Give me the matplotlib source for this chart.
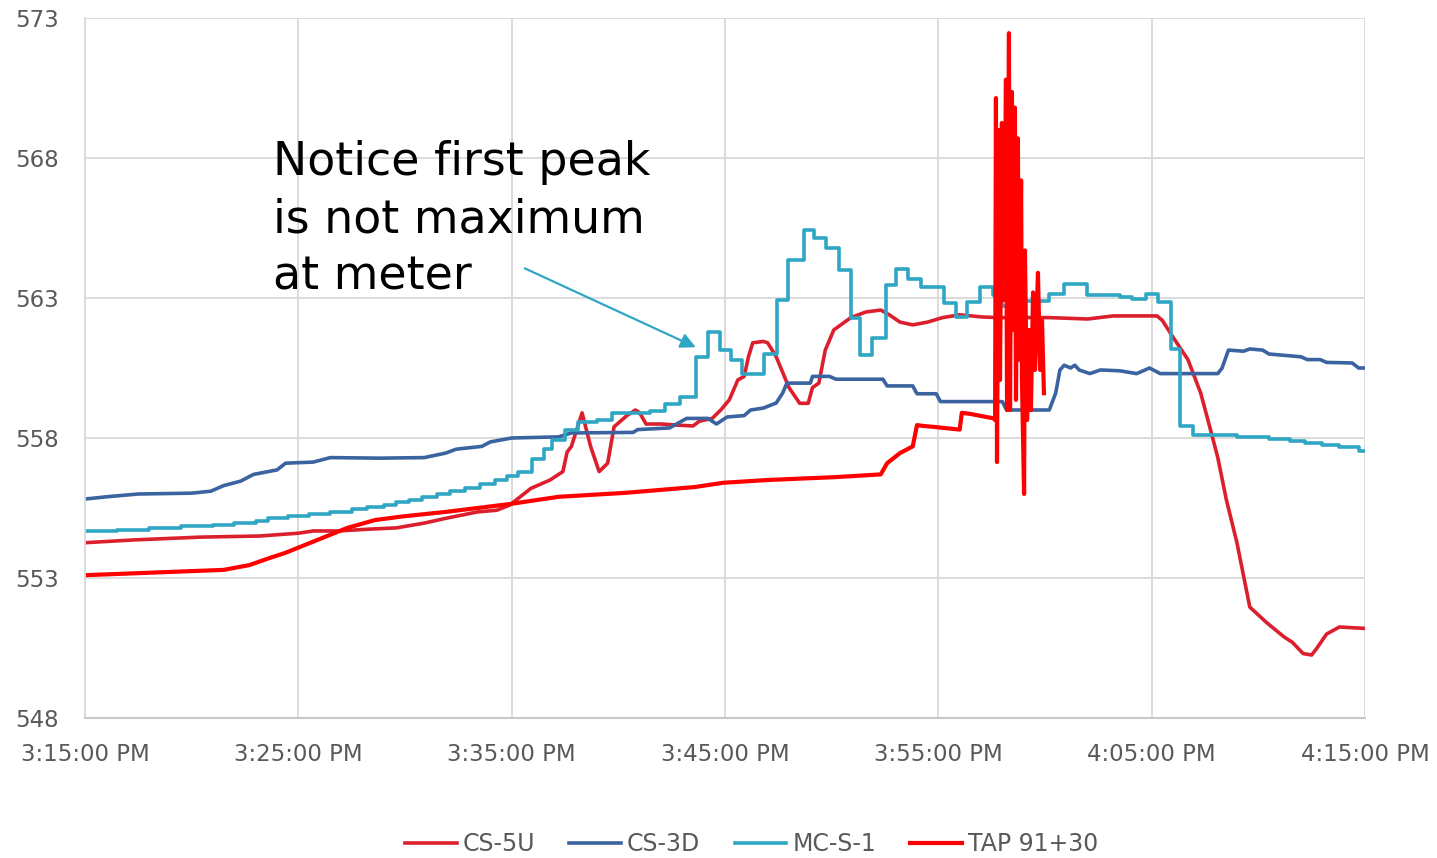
import matplotlib.pyplot as plt

# minutes after 3:15:00 PM
cs5u_t = [0, 2.3, 5.4, 8.2, 10, 10.7, 11.9, 13.2, 14.6, 15.9, 16.9, 18.4, 19.3, 19.9, 20.9, 21.8,
          22.4, 22.6, 22.8, 23.3, 23.7, 24.1, 24.5, 24.8, 25.4, 25.8, 26.0, 26.3, 27.0, 27.75, 28.5,
          28.8, 29.4, 29.8, 30.2, 30.6, 30.9, 31.1, 31.3, 31.8, 32.0, 32.4, 33.0, 33.5, 33.9, 34.1,
          34.4, 34.7, 35.1, 35.9, 36.6, 37.3, 37.7, 38.2, 38.8, 39.5, 40.2, 41.0, 42.1, 42.9, 45.2,
          47.0, 48.2, 50.25, 50.5, 51.0, 51.7, 52.3, 52.6, 53.1, 53.5, 54.0, 54.6, 55.4, 56.2, 56.6,
          57.1, 57.5, 57.75, 58.2, 58.8, 60]
cs5u_v = [554.26, 554.36, 554.46, 554.5, 554.6, 554.68, 554.68, 554.74, 554.79, 554.96, 555.13,
          555.36, 555.42, 555.6, 556.2, 556.5, 556.8, 557.5, 557.7, 558.9, 557.7, 556.8, 557.1,
          558.4, 558.8, 559.0, 558.9, 558.5, 558.5, 558.46, 558.43, 558.6, 558.7, 559.0, 559.36,
          560.07, 560.2, 560.9, 561.4, 561.45, 561.4, 560.9, 559.8, 559.24, 559.24, 559.8, 559.96,
          561.14, 561.86, 562.3, 562.5, 562.57, 562.4, 562.14, 562.04, 562.14, 562.3, 562.4, 562.32,
          562.3, 562.3, 562.25, 562.36, 562.36, 562.2, 561.6, 560.8, 559.6, 558.75, 557.3, 555.8,
          554.25, 551.96, 551.4, 550.9, 550.7, 550.3, 550.25, 550.5, 551.0, 551.25, 551.2]

cs3d_t = [0, 1, 2.5, 5.0, 5.9, 6.5, 7.3, 7.9, 9.0, 9.4, 10.7, 11.5, 13.8, 15.9, 16.9, 17.4, 18.6,
          19.0, 20.0, 22.2, 22.8, 25.7, 25.9, 27.4, 28.2, 29.2, 29.6, 30.1, 30.9, 31.2, 31.8, 32.4,
          32.7, 32.9, 34.0, 34.1, 34.9, 35.2, 37.4, 37.6, 38.8, 39.0, 39.9, 40.1, 43.0, 43.2, 45.2,
          45.5, 45.7, 45.9, 46.2, 46.4, 46.6, 47.1, 47.6, 48.5, 49.3, 49.9, 50.4, 53.1, 53.3, 53.6,
          54.3, 54.6, 55.2, 55.5, 57.0, 57.3, 57.9, 58.2, 59.4, 59.7, 60]
cs3d_v = [555.82, 555.9, 556.0, 556.03, 556.1, 556.3, 556.46, 556.7, 556.86, 557.1, 557.14, 557.3,
          557.28, 557.3, 557.46, 557.6, 557.7, 557.86, 558.0, 558.04, 558.18, 558.2, 558.3, 558.36,
          558.7, 558.7, 558.5, 558.75, 558.8, 559.0, 559.07, 559.25, 559.6, 559.96, 559.96, 560.2,
          560.2, 560.1, 560.1, 559.86, 559.86, 559.58, 559.58, 559.3, 559.3, 559.0, 559.0, 559.6,
          560.43, 560.6, 560.5, 560.6, 560.43, 560.3, 560.43, 560.4, 560.3, 560.5, 560.3, 560.3,
          560.5, 561.14, 561.1, 561.18, 561.14, 561.0, 560.9, 560.8, 560.8, 560.7, 560.68, 560.5,
          560.5]

# MC-S-1 is a stepped signal: value holds from each time to the next
mcs1_t = [0, 1.5, 3, 4.5, 6, 7, 8, 8.6, 9.5, 10.5, 11.5, 12.5, 13.2, 14.0, 14.6, 15.2, 15.8, 16.5,
          17.1, 17.8, 18.5, 19.2, 19.8, 20.3, 20.95, 21.5, 21.9, 22.5, 23.1, 24.0, 24.7, 26.5,
          27.2, 27.9, 28.65, 29.2, 29.75, 30.3, 30.8, 31.85, 32.45, 32.95, 33.7, 34.15, 34.75,
          35.35, 35.9, 36.35, 36.9, 37.55, 38.0, 38.6, 39.2, 40.25, 40.85, 41.35, 41.95, 42.55,
          43.0, 43.6, 45.2, 45.9, 46.95, 48.5, 49.1, 49.75, 50.3, 50.9, 51.35, 51.95, 54.0, 55.5,
          56.5, 57.2, 58.0, 58.8, 59.7, 60]
mcs1_v = [554.68, 554.72, 554.78, 554.84, 554.9, 554.96, 555.05, 555.15, 555.2, 555.28, 555.36,
          555.45, 555.54, 555.62, 555.7, 555.8, 555.9, 556.0, 556.1, 556.2, 556.35, 556.5, 556.65,
          556.8, 557.25, 557.6, 557.93, 558.3, 558.57, 558.64, 558.9, 558.97, 559.2, 559.46,
          560.9, 561.8, 561.14, 560.8, 560.28, 561.0, 562.93, 564.36, 565.43, 565.14, 564.8,
          564.0, 562.3, 560.96, 561.57, 563.46, 564.04, 563.68, 563.4, 562.82, 562.32, 562.84,
          563.4, 563.1, 562.72, 562.9, 563.14, 563.5, 563.1, 563.03, 562.98, 563.14, 562.84,
          561.18, 558.43, 558.1, 558.04, 557.98, 557.9, 557.82, 557.74, 557.68, 557.55, 557.55]

tap_t = [0, 6.5, 7.7, 8.6, 9.4, 10.7, 12.3, 13.6, 14.9, 16.9, 19.9, 22.2, 25.3, 28.6, 29.9, 32.0,
         35.1, 37.3, 37.6, 38.2, 38.8, 39.0, 39.3, 39.75, 41.0, 41.1, 41.5, 42.6, 42.66, 42.70,
         42.75, 42.84, 42.89, 42.98, 43.08, 43.17, 43.22, 43.31, 43.36, 43.45, 43.50, 43.59,
         43.64, 43.73, 43.78, 43.88, 43.92, 44.02, 44.06, 44.16, 44.25, 44.34, 44.44, 44.53,
         44.63, 44.67, 44.77, 44.86, 44.95]
tap_v = [553.1, 553.29, 553.46, 553.7, 553.9, 554.3, 554.79, 555.07, 555.2, 555.36, 555.64, 555.9,
         556.04, 556.25, 556.4, 556.5, 556.6, 556.7, 557.1, 557.46, 557.7, 558.46, 558.43, 558.4,
         558.3, 558.9, 558.86, 558.7, 558.64, 570.14, 557.14, 569.0, 560.07, 569.25, 562.93,
         570.8, 559.0, 572.46, 559.0, 570.36, 561.86, 569.8, 559.36, 568.7, 560.8, 567.2, 560.07,
         556.0, 564.7, 558.64, 561.86, 559.0, 563.2, 560.43, 562.93, 563.9, 560.43, 562.2, 559.6]

x_ticks = [0, 10, 20, 30, 40, 50, 60]
x_labels = ['3:15:00 PM', '3:25:00 PM', '3:35:00 PM', '3:45:00 PM',
            '3:55:00 PM', '4:05:00 PM', '4:15:00 PM']
y_ticks = [548, 553, 558, 563, 568, 573]

fig = plt.figure(figsize=(14.37, 8.58), dpi=100)
ax = fig.add_axes([85 / 1437, 1 - 718 / 858, 1280 / 1437, 700 / 858])

ax.plot(cs5u_t, cs5u_v, color='#DC1F2D', lw=2.6, label='CS-5U', solid_joinstyle='round')
ax.plot(cs3d_t, cs3d_v, color='#3A63A0', lw=2.6, label='CS-3D', solid_joinstyle='round')
ax.plot(mcs1_t, mcs1_v, color='#2FA6C4', lw=2.6, label='MC-S-1', drawstyle='steps-post')
ax.plot(tap_t, tap_v, color='#FF0000', lw=3.0, label='TAP 91+30', solid_joinstyle='round')

ax.set_xlim(0, 60)
ax.set_ylim(548, 573)
ax.set_xticks(x_ticks)
ax.set_xticklabels(x_labels)
ax.set_yticks(y_ticks)
ax.grid(True, color='#D9D9D9', lw=1.3)
ax.set_axisbelow(True)
for s in ['top', 'right']:
    ax.spines[s].set_visible(False)
ax.spines['left'].set_color('#D9D9D9')
ax.spines['bottom'].set_color('#C8C8C8')
ax.spines['left'].set_linewidth(1.3)
ax.spines['bottom'].set_linewidth(1.5)
ax.tick_params(axis='both', length=0, labelsize=16.5, labelcolor='#595959')
ax.tick_params(axis='x', pad=18)
ax.tick_params(axis='y', pad=19)

ax.text(0.1469, 0.826, 'Notice first peak\nis not maximum\nat meter', transform=ax.transAxes,
        fontsize=33, va='top', ha='left', linespacing=1.36, color='black')
ax.annotate('', xy=(28.75, 561.2), xytext=(20.5, 564.1),
            arrowprops=dict(arrowstyle='-|>,head_length=0.9,head_width=0.45',
                            color='#2FA6C4', lw=1.6))

fig.legend(loc='center', bbox_to_anchor=(0.523, 0.016), ncol=4, frameon=False,
           fontsize=17, labelcolor='#595959', handlelength=2.2, handletextpad=0.25,
           columnspacing=1.45)

plt.savefig('out.png')
